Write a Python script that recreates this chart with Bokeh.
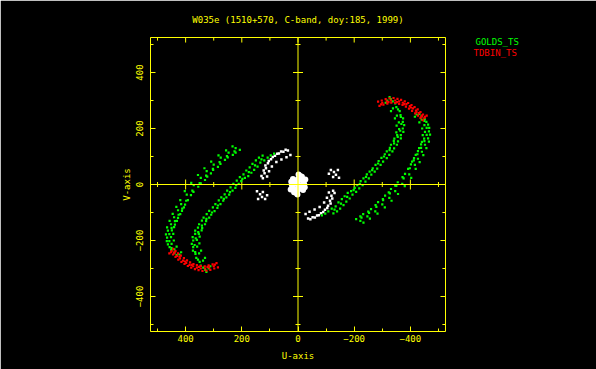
import numpy as np
from bokeh.plotting import figure
from bokeh.models import Range1d, FixedTicker, Span, Label
from bokeh.embed import file_html
from bokeh.resources import INLINE

# ---------------- data ----------------
TITLE = "W035e (1510+570, C-band, doy:185, 1999)"
X_LABEL = "U-axis"
Y_LABEL = "V-axis"
SERIES = ["GOLDS_TS", "TDBIN_TS"]
MAJOR_TICKS = [-400, -200, 0, 200, 400]
MINOR_TICKS = [-500, -300, -100, 100, 300, 500]
TICK_LABELS = {400: "400", 200: "200", 0: "0", -200: "\u2212200", -400: "\u2212400"}
UV_LIMIT = 525

# GOLDS_TS (green) tracks: right-hand inner and outer arcs
green_r_inner_u = [-330, -350, -365, -373, -373, -366, -356, -342, -325, -303, -282, -261, -240, -218, -194, -172, -150, -126,
                   -318, -338, -352, -359, -360, -353, -341, -327, -309, -287, -266, -245, -223, -202, -177, -156, -134, -108, -85,
                   -337, -356, -366, -368, -364, -355, -342, -326, -306, -285, -264, -242, -220, -198, -175, -153, -130,
                   -326, -346, -362, -374, -378, -375, -366, -352, -336, -316, -294, -273, -252, -230, -207, -184, -162, -139,
                   -312, -331, -345, -351, -350, -343, -331, -316, -297, -276, -255, -233, -211, -189, -166, -144, -120, -97]
green_r_inner_v = [305, 276, 248, 224, 200, 176, 154, 129, 106, 82, 57, 35, 10, -14, -36, -61, -86, -103,
                   300, 272, 246, 222, 198, 176, 156, 131, 108, 84, 58, 36, 12, -12, -30, -52, -78, -96, -110,
                   297, 268, 241, 216, 192, 170, 147, 123, 100, 75, 51, 27, 2, -20, -44, -68, -90,
                   312, 290, 262, 236, 212, 188, 165, 142, 118, 94, 70, 46, 22, -2, -26, -50, -74, -96,
                   292, 262, 236, 210, 186, 164, 142, 118, 95, 70, 46, 22, -2, -24, -42, -64, -86, -104]
green_r_outer_u = [-432, -451, -463, -466, -463, -452, -441, -427, -416, -396, -371, -346, -325, -300, -275, -247, -222,
                   -422, -440, -450, -452, -449, -438, -427, -413, -402, -381, -355, -331, -310, -285, -260, -232, -207,
                   -450, -458, -458, -450, -438, -425, -412, -398, -376, -350, -327, -303, -279, -253, -226,
                   -440, -457, -467, -470, -466, -457, -446, -433, -419, -403, -380, -356, -333, -309, -283, -256, -233,
                   -416, -432, -442, -444, -441, -431, -419, -406, -392, -372, -346, -323, -302, -276, -250, -222]
green_r_outer_v = [252, 234, 214, 190, 165, 142, 117, 92, 70, 36, 2, -24, -48, -71, -96, -114, -130,
                   250, 232, 212, 188, 164, 143, 119, 94, 72, 38, 8, -16, -40, -63, -88, -106, -124,
                   227, 202, 177, 155, 131, 108, 86, 58, 22, -5, -32, -56, -80, -101, -118,
                   244, 224, 202, 178, 153, 130, 105, 80, 56, 24, -6, -34, -58, -82, -104, -122, -136,
                   242, 222, 200, 176, 152, 130, 106, 82, 56, 26, -4, -28, -52, -74, -97, -114]
# conjugate (left-hand) arcs
green_l_inner_u = [330, 350, 365, 373, 373, 366, 356, 342, 325, 303, 282, 261, 240, 218, 194, 172, 150, 126,
                   318, 338, 352, 359, 360, 353, 341, 327, 309, 287, 266, 245, 223, 202, 177, 156, 134, 108, 85,
                   337, 356, 366, 368, 364, 355, 342, 326, 306, 285, 264, 242, 220, 198, 175, 153, 130,
                   326, 346, 362, 374, 378, 375, 366, 352, 336, 316, 294, 273, 252, 230, 207, 184, 162, 139,
                   312, 331, 345, 351, 350, 343, 331, 316, 297, 276, 255, 233, 211, 189, 166, 144, 120, 97]
green_l_inner_v = [-305, -276, -248, -224, -200, -176, -154, -129, -106, -82, -57, -35, -10, 14, 36, 61, 86, 103,
                   -300, -272, -246, -222, -198, -176, -156, -131, -108, -84, -58, -36, -12, 12, 30, 52, 78, 96, 110,
                   -297, -268, -241, -216, -192, -170, -147, -123, -100, -75, -51, -27, -2, 20, 44, 68, 90,
                   -312, -290, -262, -236, -212, -188, -165, -142, -118, -94, -70, -46, -22, 2, 26, 50, 74, 96,
                   -292, -262, -236, -210, -186, -164, -142, -118, -95, -70, -46, -22, 2, 24, 42, 64, 86, 104]
green_l_outer_u = [432, 451, 463, 466, 463, 452, 441, 427, 416, 396, 371, 346, 325, 300, 275, 247, 222,
                   422, 440, 450, 452, 449, 438, 427, 413, 402, 381, 355, 331, 310, 285, 260, 232, 207,
                   450, 458, 458, 450, 438, 425, 412, 398, 376, 350, 327, 303, 279, 253, 226,
                   440, 457, 467, 470, 466, 457, 446, 433, 419, 403, 380, 356, 333, 309, 283, 256, 233,
                   416, 432, 442, 444, 441, 431, 419, 406, 392, 372, 346, 323, 302, 276, 250, 222]
green_l_outer_v = [-252, -234, -214, -190, -165, -142, -117, -92, -70, -36, -2, 24, 48, 71, 96, 114, 130,
                   -250, -232, -212, -188, -164, -143, -119, -94, -72, -38, -8, 16, 40, 63, 88, 106, 124,
                   -227, -202, -177, -155, -131, -108, -86, -58, -22, 5, 32, 56, 80, 101, 118,
                   -244, -224, -202, -178, -153, -130, -105, -80, -56, -24, 6, 34, 58, 82, 104, 122, 136,
                   -242, -222, -200, -176, -152, -130, -106, -82, -56, -26, 4, 28, 52, 74, 97, 114]

# TDBIN_TS (red) tracks
red_r_u = [-285, -298, -312, -326, -340, -354, -367, -380, -392, -404, -415, -426, -436, -445, -452,
           -290, -304, -318, -332, -346, -360, -372, -384, -395, -406, -417, -427, -436, -444,
           -300, -316, -331, -346, -360, -373, -386, -398, -409, -420, -431, -441, -450,
           -296, -322, -352, -378, -402, -422, -440, -458]
red_r_v = [296, 300, 305, 308, 309, 306, 302, 297, 291, 284, 276, 268, 259, 250, 242,
           281, 285, 289, 292, 291, 288, 284, 278, 271, 263, 254, 246, 238, 230,
           292, 297, 300, 300, 297, 292, 287, 280, 272, 264, 255, 246, 238,
           286, 294, 294, 287, 275, 258, 242, 246]
red_l_u = [285, 298, 312, 326, 340, 354, 367, 380, 392, 404, 415, 426, 436, 445, 452,
           290, 304, 318, 332, 346, 360, 372, 384, 395, 406, 417, 427, 436, 444,
           300, 316, 331, 346, 360, 373, 386, 398, 409, 420, 431, 441, 450,
           296, 322, 352, 378, 402, 422, 440, 458]
red_l_v = [-296, -300, -305, -308, -309, -306, -302, -297, -291, -284, -276, -268, -259, -250, -242,
           -281, -285, -289, -292, -291, -288, -284, -278, -271, -263, -254, -246, -238, -230,
           -292, -297, -300, -300, -297, -292, -287, -280, -272, -264, -255, -246, -238,
           -286, -294, -294, -287, -275, -258, -242, -246]

# other baselines (white)
white_arc_u = [125, 119, 114, 107, 96, 82, 68, 52, 36,
               110, 103, 93, 77, 59, 41, 27,
               130, 122, 116, 104, 90, 74, 60, 44,
               -125, -119, -114, -107, -96, -82, -68, -52, -36,
               -110, -103, -93, -77, -59, -41, -27,
               -130, -122, -116, -104, -90, -74, -60, -44]
white_arc_v = [22, 40, 58, 76, 90, 103, 111, 117, 121,
               29, 47, 64, 80, 89, 97, 105,
               30, 50, 68, 84, 98, 110, 118, 124,
               -22, -40, -58, -76, -90, -103, -111, -117, -121,
               -29, -47, -64, -80, -89, -97, -105,
               -30, -50, -68, -84, -98, -110, -118, -124]
white_clump_u = [146, 135, 128, 117, 142, 125, 110, -146, -135, -128, -117, -142, -125, -110]
white_clump_v = [-24, -35, -45, -52, -52, -27, -38, 24, 35, 45, 52, 52, 27, 38]
white_core_u = [0, 10, -10, -8, 4, 18, -18, 22, -22, 8, -8, 14, -14, 24, -24, -2, 2, -26, 26, 12, -12, 0, 0, 18, -18]
white_core_v = [0, 12, -12, 30, -32, 20, -20, -2, 2, -18, 18, -28, 28, 10, -10, 36, -36, 18, -18, 4, -4, 20, -20, -12, 12]

# ---------------- styling ----------------
YELLOW = "#ffff00"
GREEN = "#00ff00"
RED = "#ff0000"
FONT = "DejaVu Sans Mono"

p = figure(frame_width=295, frame_height=294,
           x_range=Range1d(UV_LIMIT, -UV_LIMIT), y_range=Range1d(-UV_LIMIT, UV_LIMIT),
           output_backend="svg", toolbar_location=None,
           background_fill_color="black", border_fill_color="black",
           outline_line_color=YELLOW, outline_line_width=1,
           min_border_left=150, min_border_right=151,
           min_border_top=37, min_border_bottom=38,
           title=TITLE)
p.grid.visible = False
p.title.align = "center"
p.title.text_color = YELLOW
p.title.text_font = FONT
p.title.text_font_size = "9px"
p.title.text_font_style = "normal"
p.title.standoff = 25

for ax in p.axis:
    ax.ticker = FixedTicker(ticks=MAJOR_TICKS, minor_ticks=MINOR_TICKS)
    ax.axis_line_color = None
    ax.major_tick_line_color = YELLOW
    ax.minor_tick_line_color = YELLOW
    ax.major_tick_in = 5
    ax.major_tick_out = 0
    ax.minor_tick_in = 3
    ax.minor_tick_out = 0
    ax.major_label_text_color = YELLOW
    ax.major_label_text_font = FONT
    ax.major_label_text_font_size = "9px"
    ax.major_label_overrides = TICK_LABELS
    ax.axis_label_text_color = YELLOW
    ax.axis_label_text_font = FONT
    ax.axis_label_text_font_size = "9px"
    ax.axis_label_text_font_style = "normal"

p.below[0].axis_label = X_LABEL
p.below[0].major_label_standoff = 3
p.below[0].axis_label_standoff = 6
p.left[0].axis_label = Y_LABEL
p.left[0].major_label_orientation = "vertical"
p.left[0].major_label_standoff = 8
p.left[0].axis_label_standoff = 1

# inward ticks on the top and right edges of the box
TICK_MAJ = 18   # ~5 px in data units
TICK_MIN = 11   # ~3 px in data units
p.segment(x0=MAJOR_TICKS, y0=[UV_LIMIT] * 5, x1=MAJOR_TICKS, y1=[UV_LIMIT - TICK_MAJ] * 5,
          line_color=YELLOW, line_width=1)
p.segment(x0=MINOR_TICKS, y0=[UV_LIMIT] * 6, x1=MINOR_TICKS, y1=[UV_LIMIT - TICK_MIN] * 6,
          line_color=YELLOW, line_width=1)
p.segment(x0=[-UV_LIMIT] * 5, y0=MAJOR_TICKS, x1=[-UV_LIMIT + TICK_MAJ] * 5, y1=MAJOR_TICKS,
          line_color=YELLOW, line_width=1)
p.segment(x0=[-UV_LIMIT] * 6, y0=MINOR_TICKS, x1=[-UV_LIMIT + TICK_MIN] * 6, y1=MINOR_TICKS,
          line_color=YELLOW, line_width=1)

# central axes through the origin
p.add_layout(Span(location=0, dimension="height", line_color=YELLOW, line_width=1))
p.add_layout(Span(location=0, dimension="width", line_color=YELLOW, line_width=1))
maj = [t for t in MAJOR_TICKS if t != 0]
p.scatter(x=maj, y=[0] * len(maj), marker="dash", angle=np.pi / 2, size=10, line_color=YELLOW, line_width=1)
p.scatter(x=[0] * len(maj), y=maj, marker="dash", size=10, line_color=YELLOW, line_width=1)
p.scatter(x=MINOR_TICKS, y=[0] * len(MINOR_TICKS), marker="dash", angle=np.pi / 2, size=5, line_color=YELLOW, line_width=1)
p.scatter(x=[0] * len(MINOR_TICKS), y=MINOR_TICKS, marker="dash", size=5, line_color=YELLOW, line_width=1)

# points
p.scatter(white_arc_u + white_clump_u, white_arc_v + white_clump_v, marker="square", size=2.5,
          fill_color="white", line_color=None)
p.scatter(white_core_u, white_core_v, marker="circle", size=6, fill_color="white", line_color=None)
gu = green_r_inner_u + green_r_outer_u + green_l_inner_u + green_l_outer_u
gv = green_r_inner_v + green_r_outer_v + green_l_inner_v + green_l_outer_v
p.scatter(gu, gv, marker="square", size=2.2, fill_color=GREEN, line_color=None)
p.scatter(red_r_u + red_l_u, red_r_v + red_l_v, marker="square", size=2.2, fill_color=RED, line_color=None)

# legend texts, placed in the right-hand side panels (screen units relative to each panel)
p.add_layout(Label(x=30, y=290, x_units="screen", y_units="screen", text=SERIES[0],
                   text_align="left", text_baseline="middle", text_color=GREEN,
                   text_font=FONT, text_font_size="9px"), "right")
p.add_layout(Label(x=-15, y=278.5, x_units="screen", y_units="screen", text=SERIES[1],
                   text_align="left", text_baseline="middle", text_color=RED,
                   text_font=FONT, text_font_size="9px"), "right")

open("out.html", "w").write(file_html(p, INLINE))
